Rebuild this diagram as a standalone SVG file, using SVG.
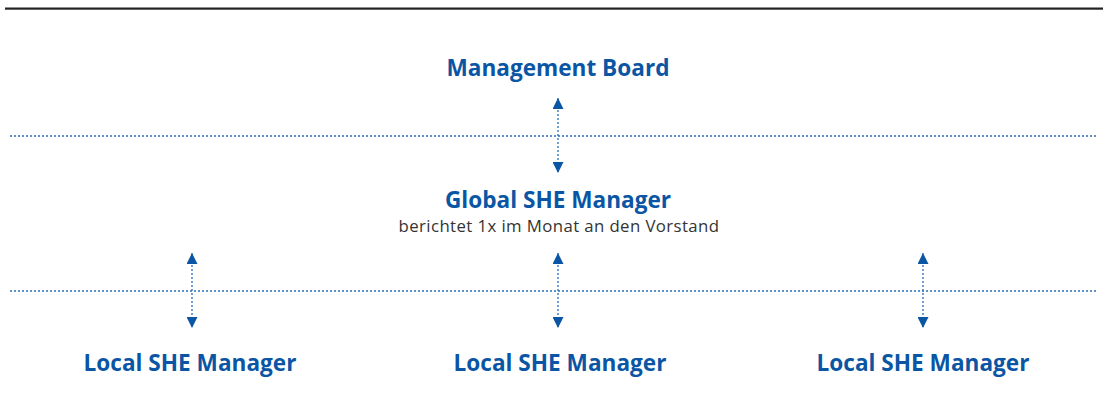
<svg xmlns="http://www.w3.org/2000/svg" width="1108" height="408" viewBox="0 0 1108 408">
<style>
.h{font-family:"Open Sans",Lato,sans-serif;font-weight:700;font-size:22.6px;fill:#0b56a4;text-anchor:middle}
.s{font-family:"Open Sans",Lato,sans-serif;font-size:16.8px;letter-spacing:0.4px;fill:#333;text-anchor:middle}
.dot{stroke:#2a6db5;stroke-width:1.3;stroke-dasharray:2 2;fill:none}
</style>
<defs>
<marker id="ah" viewBox="0 0 10 10" refX="10" refY="5" markerWidth="11" markerHeight="11" markerUnits="userSpaceOnUse" orient="auto-start-reverse">
<path d="M0,0 L10,5 L0,10 z" fill="#0b56a4"/>
</marker>
</defs>
<rect x="5" y="7.5" width="1098" height="2.2" fill="#222"/>
<g id="connectors">
<line class="dot" x1="10" y1="136" x2="1098" y2="136"/>
<line class="dot" x1="10" y1="291" x2="1098" y2="291"/>
<line class="dot" x1="558" y1="98" x2="558" y2="173" marker-start="url(#ah)" marker-end="url(#ah)"/>
<line class="dot" x1="192" y1="253" x2="192" y2="328" marker-start="url(#ah)" marker-end="url(#ah)"/>
<line class="dot" x1="558" y1="253" x2="558" y2="328" marker-start="url(#ah)" marker-end="url(#ah)"/>
<line class="dot" x1="923" y1="253" x2="923" y2="328" marker-start="url(#ah)" marker-end="url(#ah)"/>
</g>
<g id="board"><text class="h" x="558" y="76">Management Board</text></g>
<g id="global"><text class="h" x="558" y="208">Global SHE Manager</text>
<text class="s" x="559" y="232">berichtet 1x im Monat an den Vorstand</text></g>
<g id="local1"><text class="h" x="190" y="371">Local SHE Manager</text></g>
<g id="local2"><text class="h" x="560" y="371">Local SHE Manager</text></g>
<g id="local3"><text class="h" x="923" y="371">Local SHE Manager</text></g>
</svg>
